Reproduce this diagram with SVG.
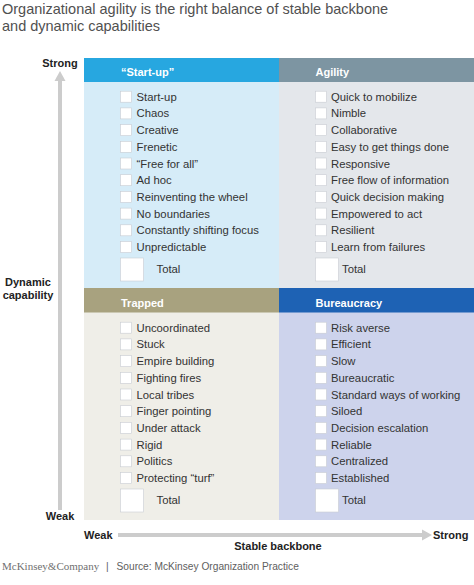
<svg xmlns="http://www.w3.org/2000/svg" width="474" height="585" viewBox="0 0 474 585">
<style>
text{font-family:"Liberation Sans",Arial,sans-serif;}
.title{font-size:14.5px;fill:#505050;}
.hdr{font-size:11px;font-weight:bold;fill:#ffffff;}
.it{font-size:11.3px;fill:#333333;}
.ax{font-size:11px;font-weight:bold;fill:#222222;}
.foot{font-size:10.2px;fill:#606060;}
.brand{font-family:"Liberation Serif","Times New Roman",serif;font-size:11px;fill:#707070;}
.cb{fill:#ffffff;stroke:#c8ccd2;stroke-width:0.6;}
</style>
<defs>
<g id="box"><rect class="cb" x="0" y="-5.5" width="11" height="11"/></g>
</defs>
<rect width="474" height="585" fill="#ffffff"/>
<text class="title" x="2" y="13.5">Organizational agility is the right balance of stable backbone</text>
<text class="title" x="2" y="30.5">and dynamic capabilities</text>

<g id="connectors">
<line x1="60" y1="80" x2="60" y2="510" stroke="#cccccc" stroke-width="4"/>
<polygon points="60,71 54.5,81 65.5,81" fill="#cccccc"/>
<line x1="118" y1="535" x2="424" y2="535" stroke="#cccccc" stroke-width="4"/>
<polygon points="432,535 422,529.5 422,540.5" fill="#cccccc"/>
</g>

<g id="axis-labels">
<text class="ax" x="60" y="67" text-anchor="middle">Strong</text>
<text class="ax" x="60" y="520" text-anchor="middle">Weak</text>
<text class="ax" x="28" y="286" text-anchor="middle">Dynamic</text>
<text class="ax" x="28" y="299" text-anchor="middle">capability</text>
<text class="ax" x="84" y="539">Weak</text>
<text class="ax" x="433" y="539">Strong</text>
<text class="ax" x="278" y="550" text-anchor="middle">Stable backbone</text>
</g>

<g id="startup">
<rect x="84" y="58" width="195" height="230" fill="#d6ecf8"/>
<rect x="84" y="58" width="195" height="24" fill="#27a7e0"/>
<text class="hdr" x="121" y="75.5">“Start-up”</text>
<use href="#box" x="120.5" y="96.7"/><text class="it" x="136.5" y="100.7">Start-up</text>
<use href="#box" x="120.5" y="113.4"/><text class="it" x="136.5" y="117.4">Chaos</text>
<use href="#box" x="120.5" y="130.1"/><text class="it" x="136.5" y="134.1">Creative</text>
<use href="#box" x="120.5" y="146.8"/><text class="it" x="136.5" y="150.8">Frenetic</text>
<use href="#box" x="120.5" y="163.5"/><text class="it" x="136.5" y="167.5">“Free for all”</text>
<use href="#box" x="120.5" y="180.2"/><text class="it" x="136.5" y="184.2">Ad hoc</text>
<use href="#box" x="120.5" y="196.9"/><text class="it" x="136.5" y="200.9">Reinventing the wheel</text>
<use href="#box" x="120.5" y="213.6"/><text class="it" x="136.5" y="217.6">No boundaries</text>
<use href="#box" x="120.5" y="230.3"/><text class="it" x="136.5" y="234.3">Constantly shifting focus</text>
<use href="#box" x="120.5" y="247"/><text class="it" x="136.5" y="251">Unpredictable</text>
<rect class="cb" x="120.5" y="258" width="23" height="23"/><text class="it" x="156.5" y="272.5">Total</text>
</g>

<g id="agility">
<rect x="279" y="58" width="195" height="230" fill="#e4e7eb"/>
<rect x="279" y="58" width="195" height="24" fill="#7d95a2"/>
<text class="hdr" x="315.5" y="75.5">Agility</text>
<use href="#box" x="315.5" y="96.7"/><text class="it" x="331" y="100.7">Quick to mobilize</text>
<use href="#box" x="315.5" y="113.4"/><text class="it" x="331" y="117.4">Nimble</text>
<use href="#box" x="315.5" y="130.1"/><text class="it" x="331" y="134.1">Collaborative</text>
<use href="#box" x="315.5" y="146.8"/><text class="it" x="331" y="150.8">Easy to get things done</text>
<use href="#box" x="315.5" y="163.5"/><text class="it" x="331" y="167.5">Responsive</text>
<use href="#box" x="315.5" y="180.2"/><text class="it" x="331" y="184.2">Free flow of information</text>
<use href="#box" x="315.5" y="196.9"/><text class="it" x="331" y="200.9">Quick decision making</text>
<use href="#box" x="315.5" y="213.6"/><text class="it" x="331" y="217.6">Empowered to act</text>
<use href="#box" x="315.5" y="230.3"/><text class="it" x="331" y="234.3">Resilient</text>
<use href="#box" x="315.5" y="247"/><text class="it" x="331" y="251">Learn from failures</text>
<rect class="cb" x="315.5" y="258" width="23" height="23"/><text class="it" x="342" y="272.5">Total</text>
</g>

<g id="trapped">
<rect x="84" y="288" width="195" height="232" fill="#efeee8"/>
<rect x="84" y="288" width="195" height="24.5" fill="#a8a27f"/>
<text class="hdr" x="121" y="306.5">Trapped</text>
<use href="#box" x="120.5" y="327.7"/><text class="it" x="136.5" y="331.7">Uncoordinated</text>
<use href="#box" x="120.5" y="344.4"/><text class="it" x="136.5" y="348.4">Stuck</text>
<use href="#box" x="120.5" y="361.1"/><text class="it" x="136.5" y="365.1">Empire building</text>
<use href="#box" x="120.5" y="377.8"/><text class="it" x="136.5" y="381.8">Fighting fires</text>
<use href="#box" x="120.5" y="394.5"/><text class="it" x="136.5" y="398.5">Local tribes</text>
<use href="#box" x="120.5" y="411.2"/><text class="it" x="136.5" y="415.2">Finger pointing</text>
<use href="#box" x="120.5" y="427.9"/><text class="it" x="136.5" y="431.9">Under attack</text>
<use href="#box" x="120.5" y="444.6"/><text class="it" x="136.5" y="448.6">Rigid</text>
<use href="#box" x="120.5" y="461.3"/><text class="it" x="136.5" y="465.3">Politics</text>
<use href="#box" x="120.5" y="478"/><text class="it" x="136.5" y="482">Protecting “turf”</text>
<rect class="cb" x="120.5" y="489" width="23" height="23"/><text class="it" x="156.5" y="503.5">Total</text>
</g>

<g id="bureaucracy">
<rect x="279" y="288" width="195" height="232" fill="#cdd3ec"/>
<rect x="279" y="288" width="195" height="24.5" fill="#1e62b4"/>
<text class="hdr" x="315.5" y="306.5">Bureaucracy</text>
<use href="#box" x="315.5" y="327.7"/><text class="it" x="331" y="331.7">Risk averse</text>
<use href="#box" x="315.5" y="344.4"/><text class="it" x="331" y="348.4">Efficient</text>
<use href="#box" x="315.5" y="361.1"/><text class="it" x="331" y="365.1">Slow</text>
<use href="#box" x="315.5" y="377.8"/><text class="it" x="331" y="381.8">Bureaucratic</text>
<use href="#box" x="315.5" y="394.5"/><text class="it" x="331" y="398.5">Standard ways of working</text>
<use href="#box" x="315.5" y="411.2"/><text class="it" x="331" y="415.2">Siloed</text>
<use href="#box" x="315.5" y="427.9"/><text class="it" x="331" y="431.9">Decision escalation</text>
<use href="#box" x="315.5" y="444.6"/><text class="it" x="331" y="448.6">Reliable</text>
<use href="#box" x="315.5" y="461.3"/><text class="it" x="331" y="465.3">Centralized</text>
<use href="#box" x="315.5" y="478"/><text class="it" x="331" y="482">Established</text>
<rect class="cb" x="315.5" y="489" width="23" height="23"/><text class="it" x="342" y="503.5">Total</text>
</g>

<text class="brand" x="2" y="569.5">McKinsey&amp;Company</text>
<text class="foot" x="106" y="569.5">|</text>
<text class="foot" x="116.5" y="569.5">Source: McKinsey Organization Practice</text>
</svg>
